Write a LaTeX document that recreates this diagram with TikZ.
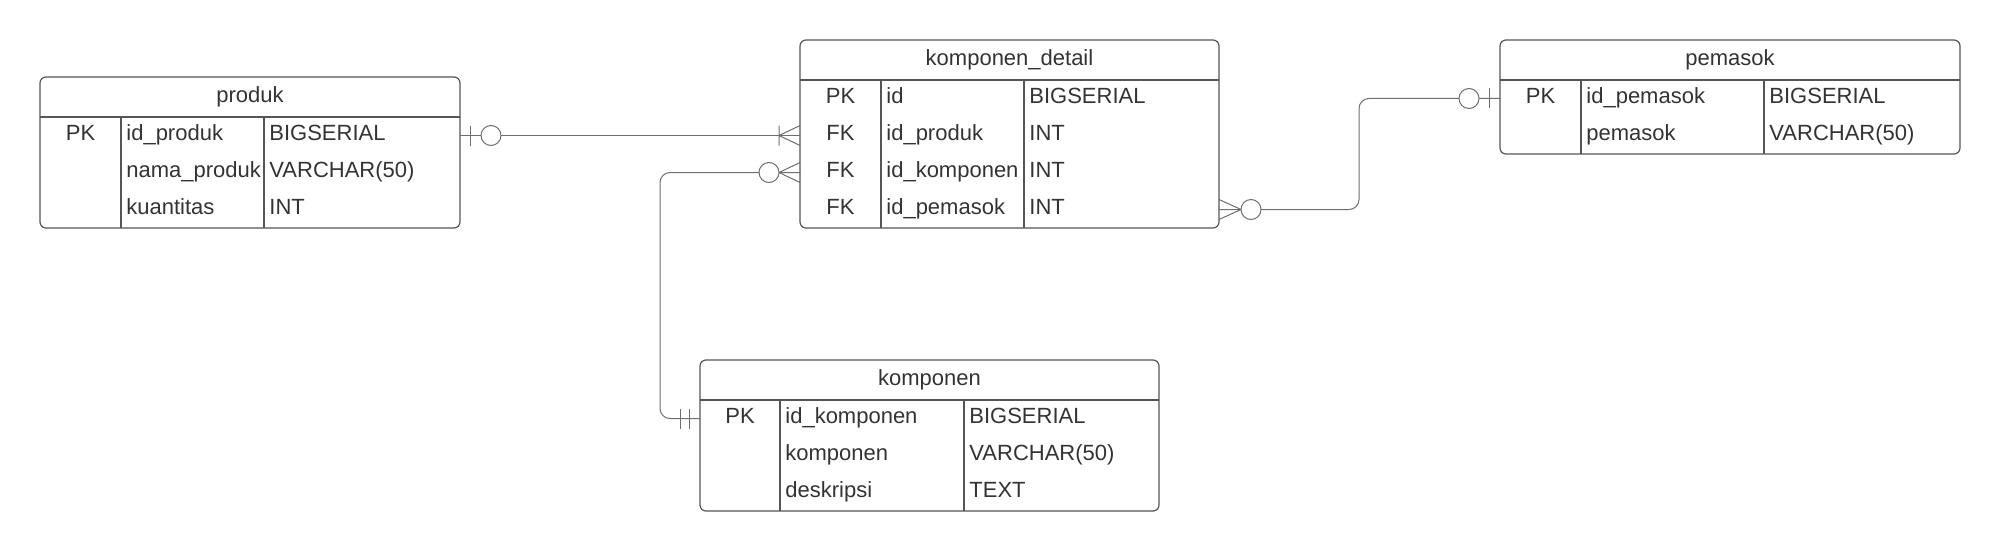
\documentclass[tikz,border=0pt]{standalone}
\usepackage{fontspec}
\setmainfont{Liberation Sans}
\usetikzlibrary{positioning}
\usetikzlibrary{calc}
\definecolor{ink}{HTML}{333333}
\definecolor{boxgray}{HTML}{555555}
\definecolor{linkgray}{HTML}{6E6E6E}

\begin{document}
\begin{tikzpicture}[x=0.5pt,y=-0.5pt,node distance=0pt,text=ink,
					font=\fontsize{11}{13}\selectfont]
					\tikzstyle{head}=[minimum height=20pt,inner sep=0pt,outer sep=0pt]
					\tikzstyle{row}=[minimum height=18.5pt,inner sep=0pt,outer sep=0pt]
					\tikzstyle{tbl}=[draw=boxgray,line width=0.6pt,rounded corners=3pt]
					\tikzstyle{rule}=[draw=boxgray,line width=0.6pt]
					\tikzstyle{cell}=[anchor=west,inner sep=0pt,text height=8pt,text depth=3pt]
					\tikzstyle{key}=[inner sep=0pt,text height=8pt,text depth=3pt]
					\tikzstyle{rel}=[draw=linkgray,line width=0.5pt]
					\tikzstyle{nub}=[draw=linkgray,fill=white,line width=0.5pt]
					
					\useasboundingbox (0,0) rectangle (2000,551);
					
					% produk
					\node[head,minimum width=210pt,anchor=north west] (produk) at (40,77) {produk};
					\node[row,minimum width=210pt] (produk_1) [below=of produk] {};
					\node[row,minimum width=210pt] (produk_2) [below=of produk_1] {};
					\node[row,minimum width=210pt] (produk_3) [below=of produk_2] {};
					
					% komponen_detail
					\node[head,minimum width=209.5pt,anchor=north west] (detail) at (800,40) {komponen\_detail};
					\node[row,minimum width=209.5pt] (detail_1) [below=of detail] {};
					\node[row,minimum width=209.5pt] (detail_2) [below=of detail_1] {};
					\node[row,minimum width=209.5pt] (detail_3) [below=of detail_2] {};
					\node[row,minimum width=209.5pt] (detail_4) [below=of detail_3] {};
					
					% pemasok
					\node[head,minimum width=230pt,anchor=north west] (pemasok) at (1500,40) {pemasok};
					\node[row,minimum width=230pt] (pemasok_1) [below=of pemasok] {};
					\node[row,minimum width=230pt] (pemasok_2) [below=of pemasok_1] {};
					
					% komponen
					\node[head,minimum width=229.5pt,anchor=north west] (komponen) at (700,360) {komponen};
					\node[row,minimum width=229.5pt] (komponen_1) [below=of komponen] {};
					\node[row,minimum width=229.5pt] (komponen_2) [below=of komponen_1] {};
					\node[row,minimum width=229.5pt] (komponen_3) [below=of komponen_2] {};
					
					% frames
					\draw[tbl] (produk.north west) rectangle (produk_3.south east);
					\draw[rule] (produk.south west) -- (produk.south east)
					($(produk.south west)+(81,0)$) -- ($(produk_3.south west)+(81,0)$)
					($(produk.south west)+(224,0)$) -- ($(produk_3.south west)+(224,0)$);
					\draw[tbl] (detail.north west) rectangle (detail_4.south east);
					\draw[rule] (detail.south west) -- (detail.south east)
					($(detail.south west)+(81,0)$) -- ($(detail_4.south west)+(81,0)$)
					($(detail.south west)+(224,0)$) -- ($(detail_4.south west)+(224,0)$);
					\draw[tbl] (pemasok.north west) rectangle (pemasok_2.south east);
					\draw[rule] (pemasok.south west) -- (pemasok.south east)
					($(pemasok.south west)+(81,0)$) -- ($(pemasok_2.south west)+(81,0)$)
					($(pemasok.south west)+(264,0)$) -- ($(pemasok_2.south west)+(264,0)$);
					\draw[tbl] (komponen.north west) rectangle (komponen_3.south east);
					\draw[rule] (komponen.south west) -- (komponen.south east)
					($(komponen.south west)+(80,0)$) -- ($(komponen_3.south west)+(80,0)$)
					($(komponen.south west)+(264,0)$) -- ($(komponen_3.south west)+(264,0)$);
					
					% cells
					\node[key] at ($(produk_1.west)+(40.5,0)$) {PK};
					\node[cell] at ($(produk_1.west)+(86,0)$) {id\_produk};
					\node[cell] at ($(produk_1.west)+(229,0)$) {BIGSERIAL};
					\node[cell] at ($(produk_2.west)+(86,0)$) {nama\_produk};
					\node[cell] at ($(produk_2.west)+(229,0)$) {VARCHAR(50)};
					\node[cell] at ($(produk_3.west)+(86,0)$) {kuantitas};
					\node[cell] at ($(produk_3.west)+(229,0)$) {INT};
					
					\node[key] at ($(detail_1.west)+(40.5,0)$) {PK};
					\node[cell] at ($(detail_1.west)+(86,0)$) {id};
					\node[cell] at ($(detail_1.west)+(229,0)$) {BIGSERIAL};
					\node[key] at ($(detail_2.west)+(40.5,0)$) {FK};
					\node[cell] at ($(detail_2.west)+(86,0)$) {id\_produk};
					\node[cell] at ($(detail_2.west)+(229,0)$) {INT};
					\node[key] at ($(detail_3.west)+(40.5,0)$) {FK};
					\node[cell] at ($(detail_3.west)+(86,0)$) {id\_komponen};
					\node[cell] at ($(detail_3.west)+(229,0)$) {INT};
					\node[key] at ($(detail_4.west)+(40.5,0)$) {FK};
					\node[cell] at ($(detail_4.west)+(86,0)$) {id\_pemasok};
					\node[cell] at ($(detail_4.west)+(229,0)$) {INT};
					
					\node[key] at ($(pemasok_1.west)+(40.5,0)$) {PK};
					\node[cell] at ($(pemasok_1.west)+(86,0)$) {id\_pemasok};
					\node[cell] at ($(pemasok_1.west)+(269,0)$) {BIGSERIAL};
					\node[cell] at ($(pemasok_2.west)+(86,0)$) {pemasok};
					\node[cell] at ($(pemasok_2.west)+(269,0)$) {VARCHAR(50)};
					
					\node[key] at ($(komponen_1.west)+(40,0)$) {PK};
					\node[cell] at ($(komponen_1.west)+(85,0)$) {id\_komponen};
					\node[cell] at ($(komponen_1.west)+(269,0)$) {BIGSERIAL};
					\node[cell] at ($(komponen_2.west)+(85,0)$) {komponen};
					\node[cell] at ($(komponen_2.west)+(269,0)$) {VARCHAR(50)};
					\node[cell] at ($(komponen_3.west)+(85,0)$) {deskripsi};
					\node[cell] at ($(komponen_3.west)+(269,0)$) {TEXT};
					
					% relations
					\draw[rel] (produk_1.east) -- (detail_2.west);
					\draw[rel,rounded corners=5pt] (detail_3.west) -- ++(-140,0) |- (komponen_1.west);
					\draw[rel,rounded corners=5pt] (detail_4.east) -- ++(140,0) |- (pemasok_1.west);
					
					% produk: zero or one
					\draw[rel] ($(produk_1.east)+(10,-10)$) -- ($(produk_1.east)+(10,10)$);
					\draw[nub] ($(produk_1.east)+(31,0)$) circle (5pt);
					% detail: one or many from produk
					\draw[rel] ($(detail_2.west)+(-21,-10)$) -- ($(detail_2.west)+(-21,10)$)
					($(detail_2.west)+(0,-10)$) -- ($(detail_2.west)+(-21,0)$) -- ($(detail_2.west)+(0,10)$);
					% detail: zero or many to komponen
					\draw[rel] ($(detail_3.west)+(0,-10)$) -- ($(detail_3.west)+(-21,0)$) -- ($(detail_3.west)+(0,10)$);
					\draw[nub] ($(detail_3.west)+(-31,0)$) circle (5pt);
					% komponen: exactly one
					\draw[rel] ($(komponen_1.west)+(-20,-10)$) -- ($(komponen_1.west)+(-20,10)$)
					($(komponen_1.west)+(-11,-10)$) -- ($(komponen_1.west)+(-11,10)$);
					% detail: zero or many to pemasok
					\draw[rel] ($(detail_4.east)+(0,-10)$) -- ($(detail_4.east)+(22,0)$) -- ($(detail_4.east)+(0,10)$);
					\draw[nub] ($(detail_4.east)+(32,0)$) circle (5pt);
					% pemasok: zero or one
					\draw[rel] ($(pemasok_1.west)+(-11,-10)$) -- ($(pemasok_1.west)+(-11,10)$);
					\draw[nub] ($(pemasok_1.west)+(-31,0)$) circle (5pt);
					\end{tikzpicture}
\end{document}
